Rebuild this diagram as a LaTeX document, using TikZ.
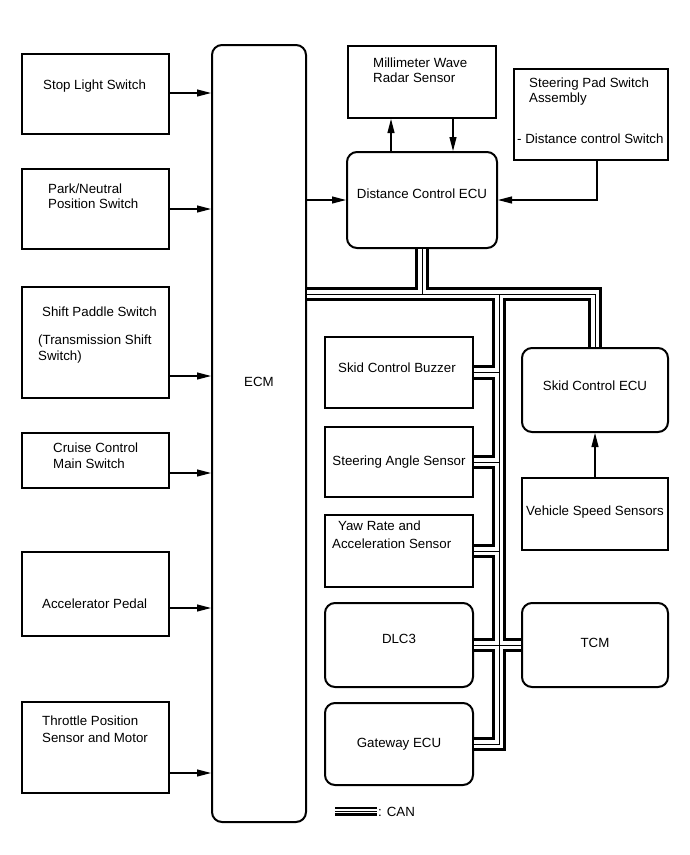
\documentclass[tikz,border=0pt]{standalone}
\usepackage{fontspec}
\setmainfont{Liberation Sans}
\usetikzlibrary{arrows.meta}
\newcommand\canbus[1]{%
  \draw[#1] (ecm.east |- hb) -- (hb -| skid.north) -- (skid.north);
  \draw[#1] (dce.south) -- (dce.south |- hb);
  \draw[#1] (vx |- hb) -- (vx |- gw.east) -- (gw.east);
  \draw[#1] (buzzer.east) -- (buzzer.east -| vx);
  \draw[#1] (steer.east) -- (steer.east -| vx);
  \draw[#1] (yaw.east) -- (yaw.east -| vx);
  \draw[#1] (dlc.east) -- (tcm.west);
}
\begin{document}
\begin{tikzpicture}[x=1pt,y=-1pt,
  font=\fontsize{13.3}{16}\selectfont,
  box/.style={draw, line width=2pt, inner sep=0pt},
  rbox/.style={box, rounded corners=10pt},
  txt/.style={inner sep=0pt, anchor=base west},
  ctxt/.style={inner sep=0pt, anchor=base},
  arr/.style={line width=1.1pt, -{Triangle[length=14pt,width=7pt]}},
  canA/.style={line width=14.5pt},
  canB/.style={line width=8.5pt, white},
  canC/.style={line width=1pt},
  legA/.style={line width=9pt},
  legB/.style={line width=4.5pt, white},
  legC/.style={line width=1pt}]
\useasboundingbox (0,0) rectangle (690,855);
\fill[white] (0,0) rectangle (690,855);

% left column
\node[box, minimum width=147pt, minimum height=80pt] (stop) at (95.5,94) {};
\node[box, minimum width=147pt, minimum height=80pt] (park) at (95.5,209) {};
\node[box, minimum width=147pt, minimum height=111pt] (shift) at (95.5,342.5) {};
\node[box, minimum width=147pt, minimum height=55pt] (cruise) at (95.5,460.5) {};
\node[box, minimum width=147pt, minimum height=84pt] (accel) at (95.5,594) {};
\node[box, minimum width=147pt, minimum height=91pt] (thr) at (95.5,747.5) {};
% ECM
\node[rbox, minimum width=94pt, minimum height=777pt] (ecm) at (259,433.5) {};
% top
\node[box, minimum width=148pt, minimum height=72pt] (radar) at (422,82) {};
\node[rbox, minimum width=150pt, minimum height=96pt] (dce) at (422,200) {};
\node[box, minimum width=154pt, minimum height=91pt] (pad) at (591,114.5) {};
% middle column
\node[box, minimum width=148pt, minimum height=71pt] (buzzer) at (399,372.5) {};
\node[box, minimum width=148pt, minimum height=70pt] (steer) at (399,462) {};
\node[box, minimum width=148pt, minimum height=72pt] (yaw) at (399,551) {};
\node[rbox, minimum width=148pt, minimum height=84pt] (dlc) at (399,645) {};
\node[rbox, minimum width=148pt, minimum height=82pt] (gw) at (399,744) {};
% right column
\node[rbox, minimum width=146pt, minimum height=84pt] (skid) at (595,390) {};
\node[box, minimum width=146pt, minimum height=72pt] (vss) at (595,514) {};
\node[rbox, minimum width=146pt, minimum height=84pt] (tcm) at (595,645) {};

% texts
\node[txt] (tstop) at (43,89) {Stop Light Switch};
\node[txt] (tpark1) at (48,193) {Park/Neutral};
\node[txt] (tpark2) at (48,208) {Position Switch};
\node[txt] (tshift1) at (42,316) {Shift Paddle Switch};
\node[txt] (tshift2) at (38,344) {(Transmission Shift};
\node[txt] (tshift3) at (38,360) {Switch)};
\node[txt] (tcru1) at (53,452) {Cruise Control};
\node[txt] (tcru2) at (53,468) {Main Switch};
\node[txt] (tacc) at (42,608) {Accelerator Pedal};
\node[txt] (tthr1) at (42,725) {Throttle Position};
\node[txt] (tthr2) at (42,742) {Sensor and Motor};
\node[ctxt] (tecm) at (259,386) {ECM};
\node[txt] (trad1) at (373,67) {Millimeter Wave};
\node[txt] (trad2) at (373,82) {Radar Sensor};
\node[ctxt] (tdce) at (422,198) {Distance Control ECU};
\node[txt] (tpad1) at (529,87) {Steering Pad Switch};
\node[txt] (tpad2) at (529,102) {Assembly};
\node[txt] (tpad3) at (517,143) {- Distance control Switch};
\node[txt] (tbuz) at (338,372) {Skid Control Buzzer};
\node[ctxt] (tste) at (399,465) {Steering Angle Sensor};
\node[txt] (tyaw1) at (338,530) {Yaw Rate and};
\node[txt] (tyaw2) at (332,548) {Acceleration Sensor};
\node[ctxt] (tdlc) at (399,643) {DLC3};
\node[ctxt] (tgw) at (399,747) {Gateway ECU};
\node[ctxt] (tskid) at (595,390) {Skid Control ECU};
\node[ctxt] (tvss) at (595,515) {Vehicle Speed Sensors};
\node[ctxt] (ttcm) at (595,647) {TCM};

% arrows into ECM
\coordinate (y1) at (0,93);
\coordinate (y2) at (0,209);
\coordinate (y3) at (0,376);
\coordinate (y4) at (0,473);
\coordinate (y5) at (0,608);
\coordinate (y6) at (0,773);
\draw[arr] (stop.east |- y1) -- (ecm.west |- y1);
\draw[arr] (park.east |- y2) -- (ecm.west |- y2);
\draw[arr] (shift.east |- y3) -- (ecm.west |- y3);
\draw[arr] (cruise.east |- y4) -- (ecm.west |- y4);
\draw[arr] (accel.east |- y5) -- (ecm.west |- y5);
\draw[arr] (thr.east |- y6) -- (ecm.west |- y6);

% top arrows
\coordinate (ux) at (391,0);
\coordinate (dx) at (453,0);
\coordinate (px) at (597,0);
\draw[arr] (ecm.east |- dce.west) -- (dce.west);
\draw[arr] (dce.north -| ux) -- (radar.south -| ux);
\draw[arr] (radar.south -| dx) -- (dce.north -| dx);
\draw[arr] (pad.south -| px) -- (px |- dce.east) -- (dce.east);
\draw[arr] (vss.north) -- (skid.south);

% CAN bus
\coordinate (hb) at (0,294);
\coordinate (vx) at (499,0);
\canbus{canA}
\canbus{canB}
\canbus{canC}

% legend
\coordinate (lg1) at (335,811);
\coordinate (lg2) at (377,811);
\draw[legA] (lg1) -- (lg2);
\draw[legB] (lg1) -- (lg2);
\draw[legC] (lg1) -- (lg2);
\node[txt] (tcan) at (378,816) {: CAN};
\end{tikzpicture}
\end{document}
